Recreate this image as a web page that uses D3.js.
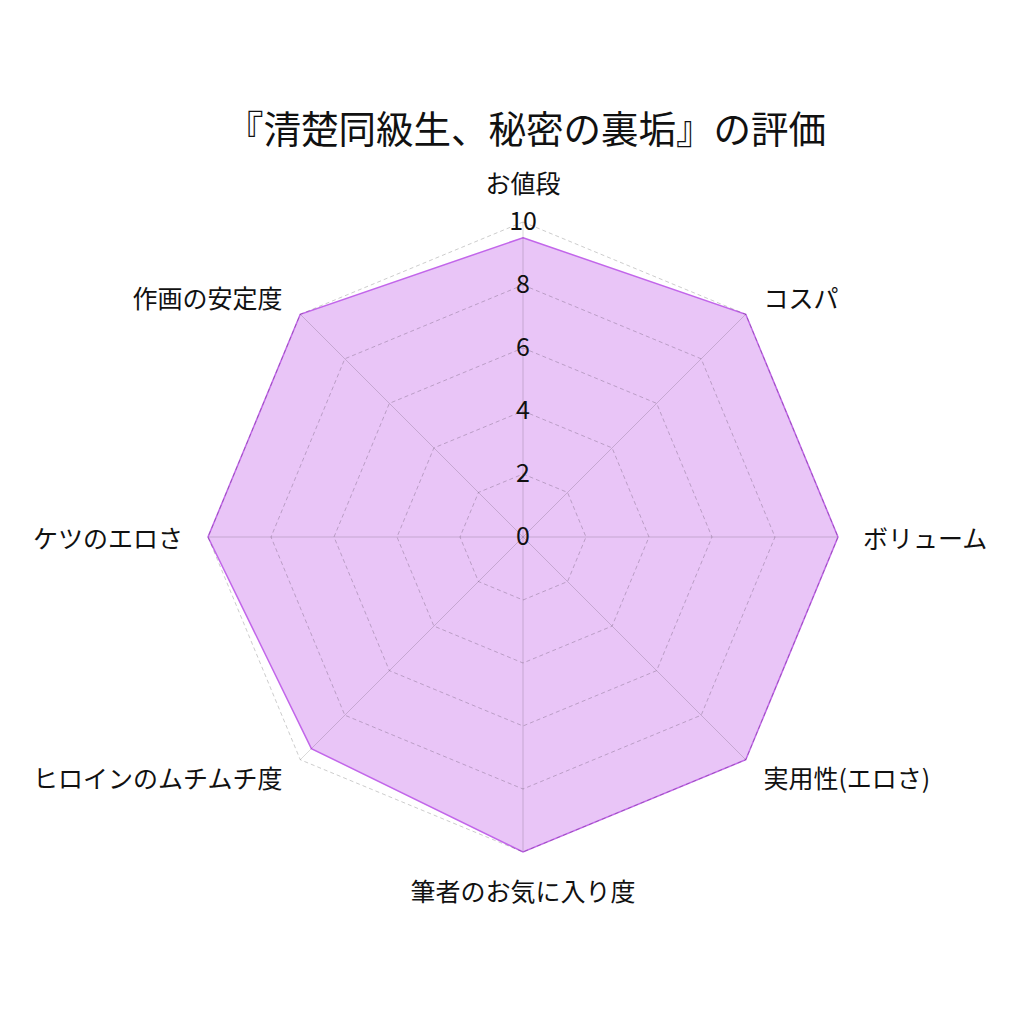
<!DOCTYPE html>
<html>
<head>
<meta charset="utf-8">
<script src="https://cdn.jsdelivr.net/npm/d3@7"></script>
<style>
  body { margin: 0; background: #fff; }
  text { font-family: "Noto Sans CJK JP", "Noto Sans", sans-serif; }
</style>
</head>
<body>
<div id="chart"></div>
<script>
const title = "『清楚同級生、秘密の裏垢』の評価";
const categories = ["お値段", "コスパ", "ボリューム", "実用性(エロさ)", "筆者のお気に入り度", "ヒロインのムチムチ度", "ケツのエロさ", "作画の安定度"];
const scores = [9.5, 10, 10, 10, 10, 9.5, 10, 10];
const tickValues = [0, 2, 4, 6, 8, 10];

const W = 1024, H = 1024;
const cx = 523, cy = 537, R = 315;

const svg = d3.select("#chart").append("svg")
    .attr("width", W)
    .attr("height", H);

svg.append("text")
    .attr("x", 526)
    .attr("y", 126)
    .attr("text-anchor", "middle")
    .attr("dominant-baseline", "central")
    .attr("font-size", 37.5)
    .attr("fill", "#111")
    .text(title);

const r = d3.scaleLinear().domain([0, 10]).range([0, R]);
const angle = d3.scaleBand().domain(categories).range([0, 2 * Math.PI]);

const g = svg.append("g").attr("transform", `translate(${cx},${cy})`);

function pt(cat, v) {
    const a = angle(cat);
    return [r(v) * Math.sin(a), -r(v) * Math.cos(a)];
}

// data polygon
g.append("path")
    .datum(categories.map((c, i) => pt(c, scores[i])))
    .attr("d", d => d3.line()(d) + "Z")
    .attr("fill", "rgba(200,110,235,0.4)")
    .attr("stroke", "#c266ea")
    .attr("stroke-width", 1.5);

// grid rings
tickValues.slice(1).forEach(t => {
    g.append("path")
        .datum(categories.map(c => pt(c, t)))
        .attr("d", d => d3.line()(d) + "Z")
        .attr("fill", "none")
        .attr("stroke", "rgba(0,0,0,0.2)")
        .attr("stroke-width", 1)
        .attr("stroke-dasharray", "4,3");
});

// spokes
g.selectAll("line.spoke")
    .data(categories)
    .enter().append("line")
    .attr("class", "spoke")
    .attr("x1", 0).attr("y1", 0)
    .attr("x2", d => pt(d, 10)[0])
    .attr("y2", d => pt(d, 10)[1])
    .attr("stroke", "rgba(0,0,0,0.15)")
    .attr("stroke-width", 1);

// category labels
g.selectAll("text.cat")
    .data(categories)
    .enter().append("text")
    .attr("class", "cat")
    .attr("x", d => (R + 25) * Math.sin(angle(d)))
    .attr("y", d => -(R + 25) * Math.cos(angle(d)))
    .attr("font-size", 25)
    .attr("fill", "#111")
    .attr("text-anchor", d => {
        const s = Math.sin(angle(d));
        return s > 0.01 ? "start" : s < -0.01 ? "end" : "middle";
    })
    .attr("dominant-baseline", d => {
        const c = Math.cos(angle(d));
        return c > 0.99 ? "auto" : c < -0.99 ? "hanging" : "central";
    })
    .attr("dy", d => {
        const c = Math.cos(angle(d));
        return c > 0.99 ? "-0.15em" : c < -0.99 ? "0.05em" : "0";
    })
    .text(d => d);

// tick labels
g.selectAll("text.tick")
    .data(tickValues)
    .enter().append("text")
    .attr("class", "tick")
    .attr("x", 0)
    .attr("y", d => -r(d))
    .attr("dy", "-0.12em")
    .attr("text-anchor", "middle")
    .attr("dominant-baseline", "central")
    .attr("font-size", 25)
    .attr("fill", "#111")
    .text(d => d);
</script>
</body>
</html>
